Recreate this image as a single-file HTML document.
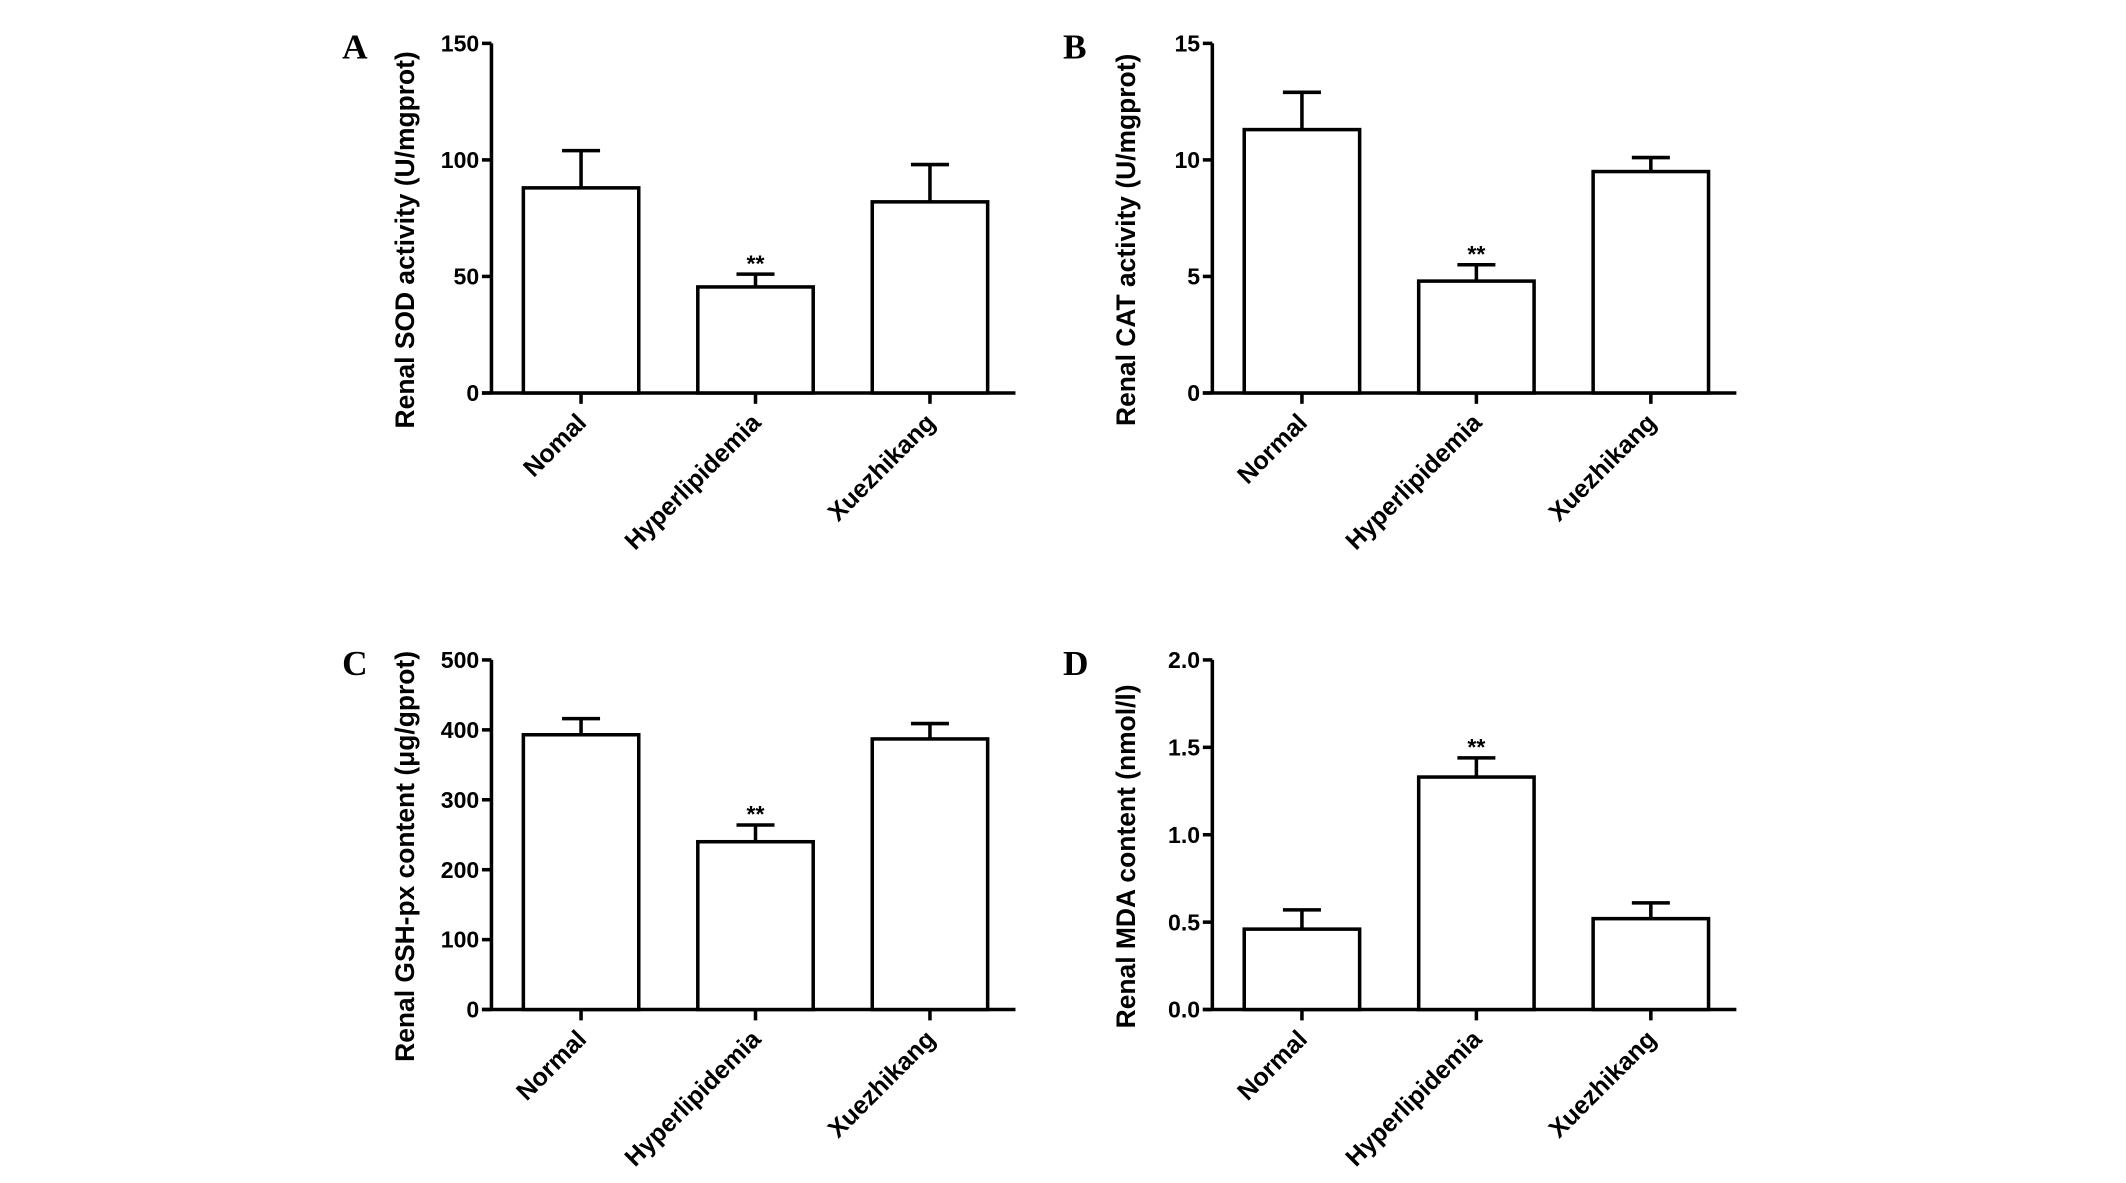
<!DOCTYPE html>
<html><head><meta charset="utf-8"><style>
html,body{margin:0;padding:0;background:#fff;width:2126px;height:1183px;overflow:hidden}
svg{display:block}
text{font-family:"Liberation Sans",Arial,sans-serif;font-weight:bold;fill:#000}
.pl{font-family:"Liberation Serif",serif;font-size:26px}
</style></head><body>
<svg id="fig" width="2126" height="1183" viewBox="0 0 1566 873" preserveAspectRatio="none" xmlns="http://www.w3.org/2000/svg"></svg>
<script>
const categoriesA = ["Nomal","Hyperlipidemia","Xuezhikang"];
const categories = ["Normal","Hyperlipidemia","Xuezhikang"];
const valuesA = [88, 45.5, 82];
const errorsA = [104, 51, 98];
const ticksA = [0, 50, 100, 150];
const valuesB = [11.3, 4.8, 9.5];
const errorsB = [12.9, 5.5, 10.1];
const ticksB = [0, 5, 10, 15];
const valuesC = [393, 240, 387];
const errorsC = [416, 264, 409];
const ticksC = [0, 100, 200, 300, 400, 500];
const valuesD = [0.46, 1.33, 0.52];
const errorsD = [0.57, 1.44, 0.61];
const ticksD = [0.0, 0.5, 1.0, 1.5, 2.0];
const tickLabelsD = ["0.0","0.5","1.0","1.5","2.0"];
const sigFlags = [false, true, false];

const NS = "http://www.w3.org/2000/svg";
const svg = document.getElementById("fig");
function mk(tag, attrs, parent){
  const e = document.createElementNS(NS, tag);
  for (const k in attrs) e.setAttribute(k, attrs[k]);
  (parent||svg).appendChild(e);
  return e;
}
function panel(key, letter, ox, oy, cats, vals, errs, ticks, tickLabels, title){
  const g = mk("g", {});
  
  
  const x0 = ox, yTop = oy, yBot = oy + 258, xEnd = ox + 386;
  const max = ticks[ticks.length-1];
  const y = v => yBot - (v / max) * (yBot - yTop);
  const bx = i => ox + 66 + i * 128.5;
  const sw = 2.6;
  const lt = mk("text", {x: ox-110, y: oy+11, class: "pl"}, g);
  lt.textContent = letter;
  
  
  const ax = mk("path", {d:`M${x0} ${yTop} V${yBot} M${x0-7} ${yBot} H${xEnd}`, stroke:"#000","stroke-width":sw, fill:"none"}, g);
  
  
  ticks.forEach((t, i) => {
    mk("line", {x1:x0-7, x2:x0, y1:y(t), y2:y(t), stroke:"#000","stroke-width":sw}, g);
    const tl = mk("text", {x:x0-9, y:y(t)+6, "text-anchor":"end","font-size":17}, g);
    tl.textContent = tickLabels ? tickLabels[i] : String(t);
    
    
  });
  const yt = mk("text", {transform:`translate(${ox-57},${(yTop+yBot)/2+16}) rotate(-90)`, "text-anchor":"middle","font-size":19.5}, g);
  yt.textContent = title;
  
  
  cats.forEach((c, i) => {
    const cx = bx(i);
    const r = mk("rect", {x:cx-42.5, y:y(vals[i]), width:85, height:yBot-y(vals[i]), fill:"#fff", stroke:"#000","stroke-width":sw}, g);
    
    
    const eb = mk("path", {d:`M${cx} ${y(vals[i])} V${y(errs[i])} M${cx-14} ${y(errs[i])} H${cx+14}`, stroke:"#000","stroke-width":sw, fill:"none"}, g);
    
    
    mk("line", {x1:cx, x2:cx, y1:yBot, y2:yBot+8, stroke:"#000","stroke-width":sw}, g);
    const cl = mk("text", {transform:`translate(${cx+5},${yBot+23}) rotate(-45)`, "text-anchor":"end","font-size":18.5}, g);
    cl.textContent = c;
    
    
    if (sigFlags[i]) {
      const s = mk("text", {x:cx, y:y(errs[i])-2, "text-anchor":"middle","font-size":17,"font-weight":"normal"}, g);
      s.textContent = "**";
      
      
    }
  });
}
panel("a","A",362,32,categoriesA,valuesA,errorsA,ticksA,null,"Renal SOD activity (U/mgprot)");
panel("b","B",893,32,categories,valuesB,errorsB,ticksB,null,"Renal CAT activity (U/mgprot)");
panel("c","C",362,487,categories,valuesC,errorsC,ticksC,null,"Renal GSH-px content (μg/gprot)");
panel("d","D",893,487,categories,valuesD,errorsD,ticksD,tickLabelsD,"Renal MDA content (nmol/l)");
</script>
</body></html>
